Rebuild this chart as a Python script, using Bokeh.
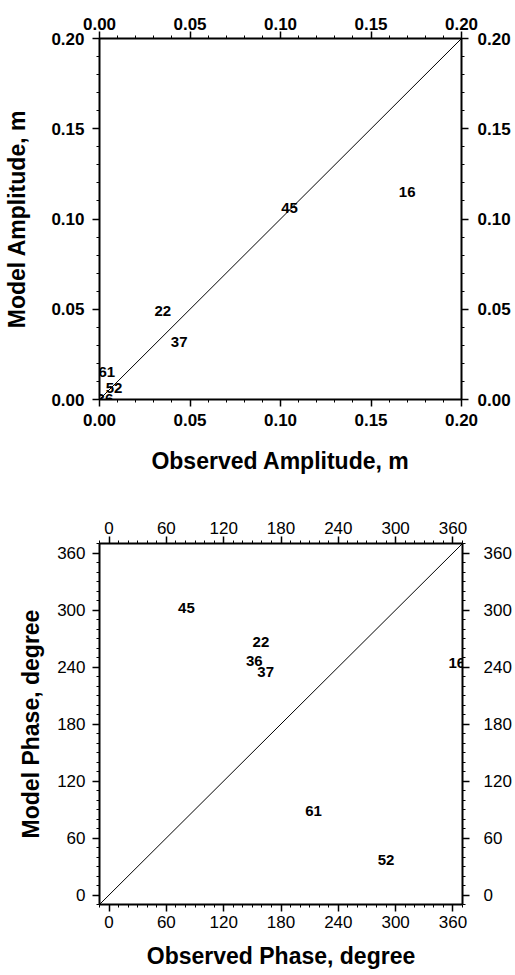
import numpy as np
from bokeh.plotting import figure
from bokeh.models import Range1d, LinearAxis, FixedTicker, NumeralTickFormatter, ColumnDataSource, LabelSet
from bokeh.layouts import column
from bokeh.core.properties import value
from bokeh.embed import file_html
from bokeh.resources import INLINE

# ---------------- data ----------------
amp_ids = ["16", "45", "22", "37", "61", "52", "36"]
obs_amp = [0.170, 0.105, 0.035, 0.044, 0.004, 0.008, 0.003]
mod_amp = [0.115, 0.106, 0.049, 0.032, 0.015, 0.0065, 0.0005]
amp_ticks = [0.00, 0.05, 0.10, 0.15, 0.20]
amp_diag = [0.0, 0.2]

ph_ids = ["45", "22", "36", "37", "16", "61", "52"]
obs_ph = [81, 159, 152, 164, 364, 214, 290]
mod_ph = [302, 266, 246, 235, 244, 88, 37]
ph_ticks = [0, 60, 120, 180, 240, 300, 360]
ph_diag = [-10, 370]

FONT = "Liberation Sans"


def style_axis(ax, bold, ticker, fmt):
    ax.ticker = ticker
    if fmt is not None:
        ax.formatter = fmt
    ax.axis_line_width = 2
    ax.axis_line_color = "black"
    ax.major_tick_line_width = 1.5
    ax.minor_tick_line_width = 1
    ax.major_tick_out = 7
    ax.major_tick_in = 0
    ax.minor_tick_out = 3
    ax.minor_tick_in = 0
    ax.major_label_text_font = FONT
    ax.major_label_text_font_size = "17px"
    ax.major_label_text_font_style = "bold" if bold else "normal"
    ax.major_label_text_color = "black"
    ax.axis_label_text_font = FONT
    ax.axis_label_text_font_size = "23px"
    ax.axis_label_text_font_style = "bold"
    ax.axis_label_text_color = "black"


def make_fig(fw, fh, borders, rng, ticks, minor, fmt, bold,
             xs, ys, ids, diag, xlabel, ylabel, standoffs):
    l, r, t, b = borders
    p = figure(frame_width=fw, frame_height=fh, output_backend="svg", toolbar_location=None,
               x_range=Range1d(*rng), y_range=Range1d(*rng),
               min_border_left=l, min_border_right=r, min_border_top=t, min_border_bottom=b,
               x_axis_location=None, y_axis_location=None)
    p.xgrid.visible = False
    p.ygrid.visible = False
    p.outline_line_color = None
    p.background_fill_color = "white"
    p.border_fill_color = "white"

    ticker = FixedTicker(ticks=ticks, minor_ticks=minor)
    for loc in ["below", "left", "above", "right"]:
        ax = LinearAxis()
        style_axis(ax, bold, ticker, fmt() if fmt else None)
        ax.major_label_standoff = standoffs[loc][0]
        if loc == "below":
            ax.axis_label = xlabel
            ax.axis_label_standoff = standoffs[loc][1]
        if loc == "left":
            ax.axis_label = ylabel
            ax.axis_label_standoff = standoffs[loc][1]
        p.add_layout(ax, loc)

    p.line(x=diag, y=diag, line_color="black", line_width=1)
    src = ColumnDataSource(dict(x=xs, y=ys, t=ids))
    labels = LabelSet(x="x", y="y", text="t", source=src, text_font=value(FONT),
                      text_font_size="15px", text_font_style="bold", text_color="black",
                      text_align="center", text_baseline="middle", level="overlay")
    p.add_layout(labels)
    return p


amp_minor = list(np.round(np.arange(0, 0.2001, 0.01), 3))
p1 = make_fig(362, 361, (97, 54, 38, 100), (0.0, 0.2), amp_ticks, amp_minor,
              lambda: NumeralTickFormatter(format="0.00"), True,
              obs_amp, mod_amp, amp_ids, amp_diag,
              "Observed Amplitude, m", "Model Amplitude, m",
              {"below": (7, 19), "left": (8, 18), "above": (2, 0), "right": (9, 0)})

ph_minor = list(range(-10, 371, 10))
p2 = make_fig(363, 361, (99, 51, 44, 71), (-10, 370), ph_ticks, ph_minor,
              None, False,
              obs_ph, mod_ph, ph_ids, ph_diag,
              "Observed Phase, degree", "Model Phase, degree",
              {"below": (4, 12), "left": (7, 10), "above": (3, 0), "right": (14, 0)})

layout = column(p1, p2, spacing=0)
open("out.html", "w").write(file_html(layout, INLINE))
